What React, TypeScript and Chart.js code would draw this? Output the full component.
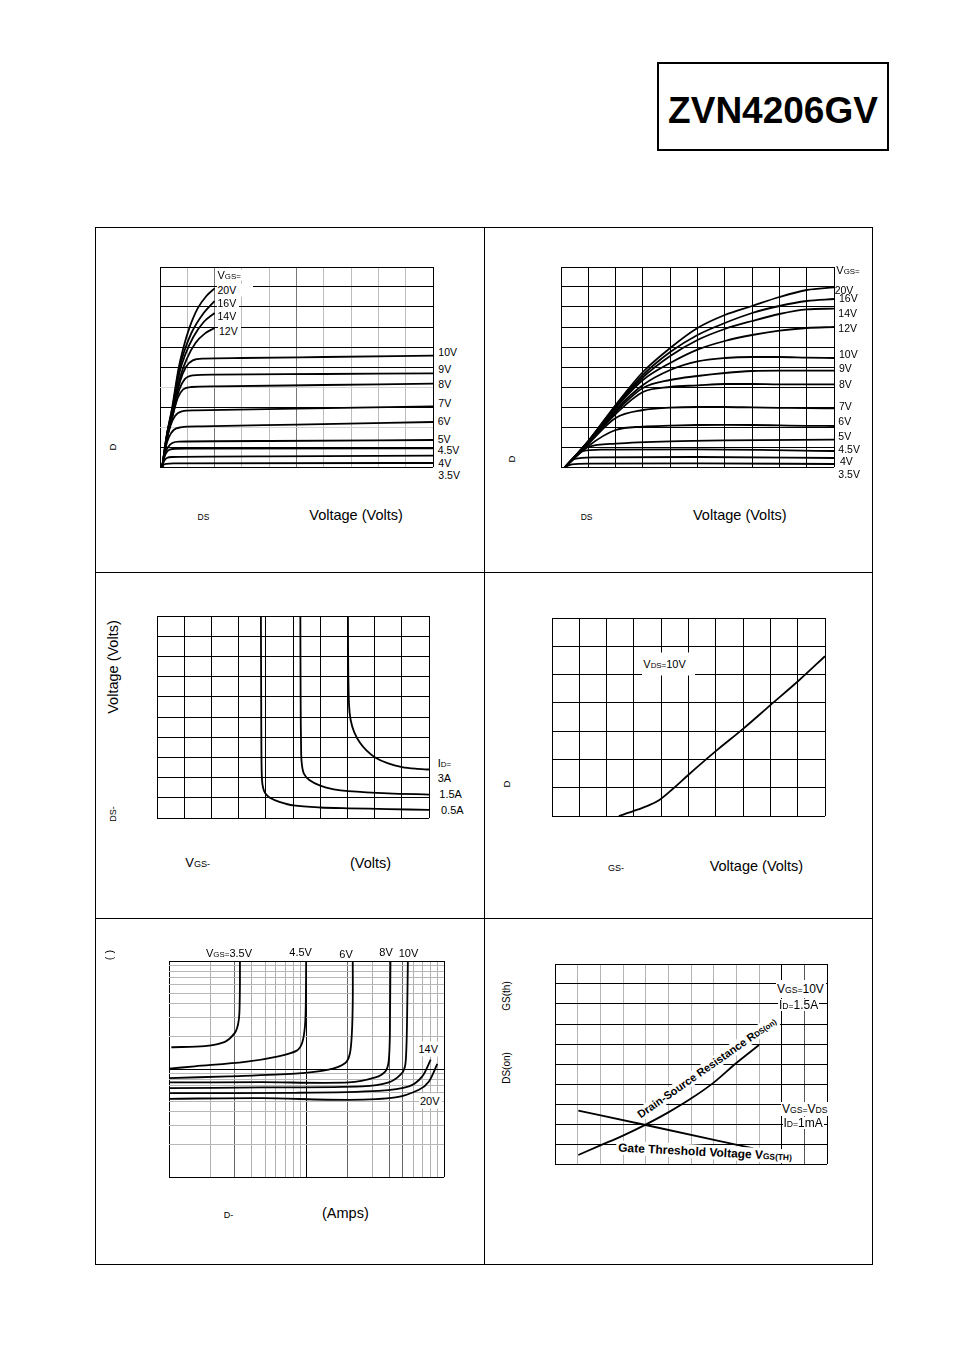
import React, { useEffect, useRef } from 'react';
import { Chart, registerables } from 'chart.js';
Chart.register(...registerables);

type Pt = [number, number];

// ---------- Panel 1: output characteristics (grid units 0-10) ----------
const p1XTicks = [0, 1, 2, 3, 4, 5, 6, 7, 8, 9, 10];
const p1YTicks = [0, 1, 2, 3, 4, 5, 6, 7, 8, 9, 10];
const p1Vgs20: Pt[] = [[0.08, 0], [0.25, 1.6], [0.44, 2.93], [0.68, 4.93], [0.85, 5.93], [1.07, 6.93], [1.38, 7.93], [1.7, 8.55], [2.0, 8.93]];
const p1Vgs16: Pt[] = [[0.08, 0], [0.25, 1.6], [0.45, 2.9], [0.69, 4.8], [0.88, 5.75], [1.15, 6.7], [1.6, 7.7], [2.0, 8.3]];
const p1Vgs14: Pt[] = [[0.08, 0], [0.25, 1.58], [0.46, 2.88], [0.71, 4.7], [0.92, 5.6], [1.22, 6.5], [1.6, 7.25], [2.0, 7.7]];
const p1Vgs12: Pt[] = [[0.08, 0], [0.26, 1.55], [0.47, 2.8], [0.74, 4.5], [0.98, 5.4], [1.3, 6.2], [1.65, 6.68], [2.0, 6.95]];
const p1Vgs10: Pt[] = [[0.08, 0], [0.26, 1.5], [0.47, 2.7], [0.74, 4.3], [0.95, 5.0], [1.2, 5.33], [1.6, 5.42], [3, 5.45], [6, 5.5], [10, 5.57]];
const p1Vgs9: Pt[] = [[0.08, 0], [0.26, 1.45], [0.47, 2.6], [0.7, 3.85], [0.9, 4.38], [1.2, 4.58], [2, 4.62], [6, 4.65], [10, 4.68]];
const p1Vgs8: Pt[] = [[0.08, 0], [0.25, 1.4], [0.45, 2.5], [0.65, 3.45], [0.85, 3.88], [1.15, 4.0], [2, 4.03], [6, 4.1], [10, 4.17]];
const p1Vgs7: Pt[] = [[0.08, 0], [0.22, 1.2], [0.38, 2.05], [0.55, 2.55], [0.8, 2.78], [1.3, 2.83], [5, 2.92], [10, 3.03]];
const p1Vgs6: Pt[] = [[0.08, 0], [0.2, 0.95], [0.33, 1.5], [0.5, 1.85], [0.75, 1.98], [1.5, 2.03], [5, 2.12], [10, 2.25]];
const p1Vgs5: Pt[] = [[0.08, 0], [0.18, 0.65], [0.3, 1.0], [0.45, 1.2], [0.7, 1.27], [4, 1.3], [10, 1.35]];
const p1Vgs45: Pt[] = [[0.08, 0], [0.16, 0.5], [0.28, 0.8], [0.45, 0.9], [1, 0.92], [10, 0.93]];
const p1Vgs4: Pt[] = [[0.07, 0], [0.15, 0.3], [0.25, 0.45], [0.45, 0.5], [4, 0.53], [10, 0.57]];
const p1Vgs35: Pt[] = [[0.06, 0], [0.12, 0.1], [0.22, 0.16], [0.5, 0.18], [10, 0.2]];

// ---------- Panel 2: saturation characteristics ----------
const p2XTicks = [0, 1, 2, 3, 4, 5, 6, 7, 8, 9, 10];
const p2YTicks = [0, 1, 2, 3, 4, 5, 6, 7, 8, 9, 10];
const p2Vgs20: Pt[] = [[0.15, 0], [1, 1.3], [2, 3.1], [3, 4.75], [4, 5.95], [5, 6.95], [6, 7.6], [7, 8.05], [8, 8.5], [9, 8.85], [10, 8.98]];
const p2Vgs16: Pt[] = [[0.15, 0], [1, 1.3], [2, 3.05], [3, 4.6], [4, 5.75], [5, 6.6], [6, 7.2], [7, 7.7], [8, 8.05], [9, 8.3], [10, 8.4]];
const p2Vgs14: Pt[] = [[0.15, 0], [1, 1.28], [2, 3.0], [3, 4.48], [4, 5.55], [5, 6.35], [6, 6.9], [7, 7.3], [8, 7.65], [9, 7.88], [10, 7.92]];
const p2Vgs12: Pt[] = [[0.15, 0], [1, 1.27], [2, 2.95], [3, 4.35], [4, 5.2], [5, 5.87], [6, 6.3], [7, 6.6], [8, 6.82], [9, 6.95], [10, 7.0]];
const p2Vgs10: Pt[] = [[0.15, 0], [1, 1.25], [2, 2.85], [3, 4.1], [4, 4.85], [5, 5.28], [6, 5.45], [7, 5.5], [8, 5.5], [9, 5.47], [10, 5.45]];
const p2Vgs9: Pt[] = [[0.15, 0], [1, 1.22], [2, 2.75], [3, 3.95], [4, 4.35], [5, 4.55], [6, 4.7], [7, 4.8], [8, 4.82], [9, 4.82], [10, 4.82]];
const p2Vgs8: Pt[] = [[0.15, 0], [1, 1.2], [2, 2.65], [3, 3.75], [4, 4.0], [5, 4.08], [6, 4.15], [7, 4.15], [8, 4.13], [9, 4.13], [10, 4.13]];
const p2Vgs7: Pt[] = [[0.15, 0], [1, 1.15], [2, 2.45], [3, 2.85], [4, 2.97], [5, 3.0], [6, 3.0], [7, 2.98], [8, 2.96], [9, 2.94], [10, 2.93]];
const p2Vgs6: Pt[] = [[0.15, 0], [1, 1.05], [2, 1.85], [3, 2.02], [4, 2.07], [5, 2.1], [6, 2.11], [7, 2.1], [8, 2.08], [9, 2.06], [10, 2.05]];
const p2Vgs5: Pt[] = [[0.15, 0], [1, 1.0], [2, 1.17], [4, 1.28], [6, 1.33], [10, 1.37]];
const p2Vgs45: Pt[] = [[0.15, 0], [0.8, 0.8], [1.5, 0.87], [5, 0.88], [10, 0.8]];
const p2Vgs4: Pt[] = [[0.15, 0], [0.5, 0.4], [1.2, 0.48], [5, 0.5], [10, 0.45]];
const p2Vgs35: Pt[] = [[0.15, 0], [0.4, 0.13], [1, 0.17], [5, 0.18], [10, 0.15]];

// ---------- Panel 3: VDS vs VGS ----------
const p3XTicks = [0, 1, 2, 3, 4, 5, 6, 7, 8, 9, 10];
const p3YTicks = [0, 1, 2, 3, 4, 5, 6, 7, 8, 9, 10];
const p3Id05: Pt[] = [[3.82, 10], [3.83, 6], [3.84, 3], [3.86, 1.9], [3.9, 1.5], [3.98, 1.22], [4.15, 1.0], [4.5, 0.8], [5.02, 0.62], [6, 0.52], [7.03, 0.48], [8.5, 0.44], [10, 0.4]];
const p3Id15: Pt[] = [[5.27, 10], [5.28, 6], [5.3, 3.2], [5.33, 2.6], [5.4, 2.2], [5.6, 1.88], [6.0, 1.6], [6.5, 1.42], [7.03, 1.33], [8.5, 1.22], [10, 1.16]];
const p3Id3: Pt[] = [[7.02, 10], [7.03, 7.5], [7.06, 5.6], [7.12, 4.85], [7.25, 4.25], [7.45, 3.75], [7.7, 3.35], [8.02, 3.0], [8.5, 2.7], [9.01, 2.52], [9.5, 2.44], [10, 2.4]];

// ---------- Panel 4: transfer characteristic ----------
const p4XTicks = [0, 1, 2, 3, 4, 5, 6, 7, 8, 9, 10];
const p4YTicks = [0, 1, 2, 3, 4, 5, 6, 7];
const p4Vds10: Pt[] = [[2.45, 0], [3.0, 0.18], [3.5, 0.36], [3.92, 0.56], [4.45, 0.98], [4.99, 1.45], [6.02, 2.31], [7.01, 3.09], [8.0, 3.92], [9.03, 4.78], [10, 5.65]];

// ---------- Panel 5: on-resistance vs drain current (log-log) ----------
const p5XTicks = [0.1, 0.2, 0.3, 0.4, 0.5, 0.6, 0.7, 0.8, 0.9, 1, 2, 3, 4, 5, 6, 7, 8, 9, 10];
const p5YTicks = [0.1, 0.2, 0.3, 0.4, 0.5, 0.6, 0.7, 0.8, 0.9, 1, 2, 3, 4, 5, 6, 7, 8, 9, 10];
const p5Vgs35: Pt[] = [[0.104, 1.59], [0.182, 1.63], [0.255, 1.785], [0.301, 2.16], [0.318, 2.6], [0.325, 3.3], [0.328, 6.1], [0.328, 9.8]];
const p5Vgs45: Pt[] = [[0.1, 1.007], [0.154, 1.059], [0.357, 1.162], [0.625, 1.31], [0.85, 1.48], [0.93, 1.75], [0.975, 2.5], [0.989, 4.27], [0.994, 9.8]];
const p5Vgs6: Pt[] = [[0.1, 0.824], [0.27, 0.855], [0.827, 0.905], [1.447, 0.986], [1.915, 1.137], [2.07, 1.4], [2.14, 2.2], [2.17, 4.27], [2.17, 9.8]];
const p5Vgs8: Pt[] = [[0.1, 0.751], [0.472, 0.755], [2.03, 0.751], [3.17, 0.836], [3.75, 0.951], [3.95, 1.15], [4.03, 1.8], [4.05, 2.99], [4.08, 9.8]];
const p5Vgs10: Pt[] = [[0.1, 0.665], [0.472, 0.675], [2.535, 0.69], [3.97, 0.751], [4.83, 0.886], [5.2, 1.05], [5.33, 1.6], [5.39, 2.99], [5.46, 9.8]];
const p5Vgs14: Pt[] = [[0.1, 0.598], [0.827, 0.602], [3.35, 0.628], [5.55, 0.69], [6.95, 0.855], [8.0, 1.22]];
const p5Vgs20: Pt[] = [[0.1, 0.53], [0.472, 0.537], [2.02, 0.518], [4.44, 0.545], [6.57, 0.642], [7.77, 0.767], [8.94, 1.113]];

// ---------- Panel 6: normalised RDS(on) and VGS(th) vs temperature ----------
const p6XTicks = [0, 1, 2, 3, 4, 5, 6, 7, 8, 9, 10, 11, 12];
const p6YTicks = [0, 1, 2, 3, 4, 5, 6, 7, 8, 9, 10];
const p6Rds: Pt[] = [[1.03, 0.45], [2, 0.93], [3, 1.42], [4, 1.97], [5, 2.58], [6, 3.27], [7, 4.07], [8, 5.05], [9, 5.95]];
const p6Vth: Pt[] = [[1.03, 2.67], [4.0, 1.95], [8.75, 0.78]];

const FONT = "'Liberation Sans', Arial, Helvetica, sans-serif";

type ScaleKind = 'linear' | 'logarithmic';
interface Spec {
  left: number; top: number; width: number; height: number;
  xType: ScaleKind; yType: ScaleKind;
  xTicks: number[]; yTicks: number[];
  xColor: (v: number) => string; yColor: (v: number) => string;
  series: Pt[][];
  mode: 'monotone' | 'bezier';
}

const black = () => '#000';

function Panel({ spec }: { spec: Spec }) {
  const ref = useRef<HTMLCanvasElement>(null);
  const pad = 3;
  useEffect(() => {
    const xs = spec.xTicks, ys = spec.yTicks;
    const chart = new Chart(ref.current as HTMLCanvasElement, {
      type: 'line',
      data: {
        datasets: spec.series.map((s) => ({
          data: s.map(([x, y]) => ({ x, y })),
          borderColor: '#000',
          borderWidth: 1.8,
          pointRadius: 0,
          fill: false,
          tension: spec.mode === 'monotone' ? 0.4 : 0.3,
          cubicInterpolationMode: spec.mode === 'monotone' ? 'monotone' : 'default',
        })),
      },
      options: {
        animation: false,
        responsive: false,
        maintainAspectRatio: false,
        events: [],
        layout: { padding: pad },
        plugins: { legend: { display: false }, tooltip: { enabled: false }, title: { display: false } },
        scales: {
          x: {
            type: spec.xType,
            min: xs[0], max: xs[xs.length - 1],
            ticks: { display: false },
            border: { display: false },
            grid: { drawTicks: false, lineWidth: 1, color: (c: any) => spec.xColor(c.tick ? c.tick.value : 0) },
            afterBuildTicks: (ax: any) => { ax.ticks = xs.map((v) => ({ value: v })); },
          },
          y: {
            type: spec.yType,
            min: ys[0], max: ys[ys.length - 1],
            ticks: { display: false },
            border: { display: false },
            grid: { drawTicks: false, lineWidth: 1, color: (c: any) => spec.yColor(c.tick ? c.tick.value : 0) },
            afterBuildTicks: (ax: any) => { ax.ticks = ys.map((v) => ({ value: v })); },
          },
        },
      } as any,
    });
    return () => chart.destroy();
  }, []);
  const w = spec.width + pad * 2, h = spec.height + pad * 2;
  return (
    <canvas
      ref={ref}
      width={w}
      height={h}
      style={{ position: 'absolute', left: spec.left - pad, top: spec.top - pad, width: w, height: h }}
    />
  );
}

function Sub({ children, r = 0.72 }: { children: React.ReactNode; r?: number }) {
  return <span style={{ fontSize: `${r}em` }}>{children}</span>;
}

function L({ x, y, s = 11, bg, pad, bold, children }: { x: number; y: number; s?: number; bg?: boolean; pad?: string; bold?: boolean; children: React.ReactNode }) {
  return (
    <div
      style={{
        position: 'absolute', left: x, top: y, fontSize: s, lineHeight: 1, whiteSpace: 'nowrap',
        transform: 'translateY(-50%)', background: bg ? '#fff' : 'transparent', padding: pad || 0,
        marginLeft: 0, fontWeight: bold ? 700 : 400, fontFamily: FONT, color: '#000',
      }}
    >
      {children}
    </div>
  );
}

function R({ x, y, s = 10, deg = -90, bg, bold, pad, children }: { x: number; y: number; s?: number; deg?: number; bg?: boolean; bold?: boolean; pad?: string; children: React.ReactNode }) {
  return (
    <div
      style={{
        position: 'absolute', left: x, top: y, fontSize: s, lineHeight: 1, whiteSpace: 'nowrap',
        transform: `translate(-50%, -50%) rotate(${deg}deg)`, background: bg ? '#fff' : 'transparent',
        padding: pad || 0, fontWeight: bold ? 700 : 400, fontFamily: FONT, color: '#000',
      }}
    >
      {children}
    </div>
  );
}

const spec1: Spec = {
  left: 160, top: 267, width: 273, height: 200, xType: 'linear', yType: 'linear',
  xTicks: p1XTicks, yTicks: p1YTicks,
  xColor: (v) => (v === 0 || v === 10 ? '#000' : v === 2 || v === 5 ? '#777' : '#bdbdbd'),
  yColor: (v) => (v === 2 || v === 4 ? '#d4d4d4' : '#000'),
  series: [p1Vgs20, p1Vgs16, p1Vgs14, p1Vgs12, p1Vgs10, p1Vgs9, p1Vgs8, p1Vgs7, p1Vgs6, p1Vgs5, p1Vgs45, p1Vgs4, p1Vgs35],
  mode: 'monotone',
};
const spec2: Spec = {
  left: 561, top: 267, width: 273, height: 200, xType: 'linear', yType: 'linear',
  xTicks: p2XTicks, yTicks: p2YTicks, xColor: black, yColor: black,
  series: [p2Vgs20, p2Vgs16, p2Vgs14, p2Vgs12, p2Vgs10, p2Vgs9, p2Vgs8, p2Vgs7, p2Vgs6, p2Vgs5, p2Vgs45, p2Vgs4, p2Vgs35],
  mode: 'monotone',
};
const spec3: Spec = {
  left: 157, top: 616, width: 272, height: 202, xType: 'linear', yType: 'linear',
  xTicks: p3XTicks, yTicks: p3YTicks, xColor: black, yColor: black,
  series: [p3Id05, p3Id15, p3Id3], mode: 'bezier',
};
const spec4: Spec = {
  left: 552, top: 618, width: 273, height: 198, xType: 'linear', yType: 'linear',
  xTicks: p4XTicks, yTicks: p4YTicks, xColor: black, yColor: black,
  series: [p4Vds10], mode: 'monotone',
};
const spec5: Spec = {
  left: 169, top: 961, width: 275, height: 216, xType: 'logarithmic', yType: 'logarithmic',
  xTicks: p5XTicks, yTicks: p5YTicks,
  xColor: (v) => (v === 0.1 || v === 1 || v === 10 ? '#000' : v === 0.3 || v === 2 || v === 4 || v === 5 ? '#666' : '#b0b0b0'),
  yColor: (v) => (v === 0.1 || v === 1 || v === 10 ? '#000' : '#b8b8b8'),
  series: [p5Vgs35, p5Vgs45, p5Vgs6, p5Vgs8, p5Vgs10, p5Vgs14, p5Vgs20], mode: 'bezier',
};
const spec6: Spec = {
  left: 555, top: 964, width: 272, height: 200, xType: 'linear', yType: 'linear',
  xTicks: p6XTicks, yTicks: p6YTicks,
  xColor: (v) => (v === 0 || v === 10 || v === 12 ? '#000' : v === 11 ? '#555' : '#b5b5b5'),
  yColor: black,
  series: [p6Rds, p6Vth], mode: 'monotone',
};

export default function App() {
  return (
    <div style={{ position: 'absolute', left: 0, top: 0, width: 954, height: 1352, background: '#fff', fontFamily: FONT, overflow: 'hidden' }}>
      {/* Title box */}
      <div style={{ position: 'absolute', left: 657, top: 62, width: 232, height: 89, border: '2px solid #000', boxSizing: 'border-box' }} />
      <div style={{ position: 'absolute', left: 773, top: 109.5, transform: 'translate(-50%, -50%)', fontSize: 37, fontWeight: 700, lineHeight: 1, whiteSpace: 'nowrap', fontFamily: FONT }}>ZVN4206GV</div>

      {/* Outer frame and dividers */}
      <div style={{ position: 'absolute', left: 95, top: 227, width: 778, height: 1038, border: '1.5px solid #000', boxSizing: 'border-box' }} />
      <div style={{ position: 'absolute', left: 483.5, top: 227, width: 1.5, height: 1038, background: '#000' }} />
      <div style={{ position: 'absolute', left: 95, top: 571.5, width: 778, height: 1.5, background: '#000' }} />
      <div style={{ position: 'absolute', left: 95, top: 917.5, width: 778, height: 1.5, background: '#000' }} />

      <Panel spec={spec1} />
      <Panel spec={spec2} />
      <Panel spec={spec3} />
      <Panel spec={spec4} />
      <Panel spec={spec5} />
      <Panel spec={spec6} />

      {/* Panel 1 labels */}
      <L x={216.5} y={275.3} s={11} bg pad="0 2px 0 1px">V<Sub>GS=</Sub></L>
      <L x={216.5} y={290} s={10.5} bg pad="1px 17px 1px 1px">20V</L>
      <L x={216.5} y={303.3} s={10.5} bg pad="0 3px 0 1px">16V</L>
      <L x={216.5} y={316.3} s={10.5} bg pad="0 3px 0 1px">14V</L>
      <L x={218} y={331.3} s={10.5} bg pad="1px 3px 1px 1px">12V</L>
      <L x={438.3} y={352.3} s={10.5}>10V</L>
      <L x={438.3} y={369.3} s={10.5}>9V</L>
      <L x={438.3} y={383.7} s={10.5}>8V</L>
      <L x={438.3} y={402.7} s={10.5}>7V</L>
      <L x={437.7} y={421.3} s={10.5}>6V</L>
      <L x={437.7} y={439.3} s={10.5}>5V</L>
      <L x={437.7} y={450} s={10.5}>4.5V</L>
      <L x={438.3} y={463} s={10.5}>4V</L>
      <L x={438.3} y={474.7} s={10.5}>3.5V</L>
      <R x={113.3} y={447} s={9.5}>D</R>
      <L x={197.5} y={516.7} s={8.5}>DS</L>
      <L x={309.3} y={515.3} s={14.5}>Voltage (Volts)</L>

      {/* Panel 2 labels */}
      <L x={836.3} y={270.3} s={11}>V<Sub>GS=</Sub></L>
      <L x={834.7} y={289.7} s={10.5}>20V</L>
      <L x={839} y={298} s={10.5}>16V</L>
      <L x={838.3} y={313.3} s={10.5}>14V</L>
      <L x={838.3} y={328} s={10.5}>12V</L>
      <L x={839} y={353.7} s={10.5}>10V</L>
      <L x={839} y={368.3} s={10.5}>9V</L>
      <L x={839} y={384.3} s={10.5}>8V</L>
      <L x={839} y={405.7} s={10.5}>7V</L>
      <L x={838.3} y={420.7} s={10.5}>6V</L>
      <L x={838.3} y={435.7} s={10.5}>5V</L>
      <L x={838.3} y={448.7} s={10.5}>4.5V</L>
      <L x={840} y={460.7} s={10.5}>4V</L>
      <L x={838.3} y={473.7} s={10.5}>3.5V</L>
      <R x={512.3} y={459} s={9.5}>D</R>
      <L x={580.7} y={516.7} s={8.5}>DS</L>
      <L x={693} y={515.3} s={14.5}>Voltage (Volts)</L>

      {/* Panel 3 labels */}
      <L x={437.7} y={762.7} s={11}>I<Sub>D=</Sub></L>
      <L x={437.7} y={778} s={11}>3A</L>
      <L x={439.3} y={794} s={11}>1.5A</L>
      <L x={441} y={810} s={11}>0.5A</L>
      <R x={112.7} y={667} s={14.5}>Voltage (Volts)</R>
      <R x={112.7} y={813.7} s={9}>DS-</R>
      <L x={185.3} y={863} s={13}>V<Sub r={0.7}>GS-</Sub></L>
      <L x={350} y={863} s={14.5}>(Volts)</L>

      {/* Panel 4 labels */}
      <L x={642.3} y={664.3} s={11} bg pad="6px 9px 6px 1px">V<Sub>DS=</Sub>10V</L>
      <R x={506.7} y={784.3} s={9.5}>D</R>
      <L x={608} y={868} s={9}>GS-</L>
      <L x={709.7} y={866.3} s={14.5}>Voltage (Volts)</L>

      {/* Panel 5 labels */}
      <L x={206} y={953} s={11}>V<Sub>GS=</Sub>3.5V</L>
      <L x={289.3} y={952.3} s={11}>4.5V</L>
      <L x={339.3} y={954} s={11}>6V</L>
      <L x={379.3} y={952} s={11}>8V</L>
      <L x={398.7} y={953} s={11}>10V</L>
      <L x={417.5} y={1048.7} s={11} bg pad="2px 2px 2px 1px">14V</L>
      <L x={419} y={1100.7} s={11} bg pad="2px 2px 2px 1px">20V</L>
      <R x={109.3} y={954.7} s={11}>( )</R>
      <L x={223.7} y={1214.7} s={9}>D-</L>
      <L x={322} y={1213} s={14.5}>(Amps)</L>

      {/* Panel 6 labels */}
      <L x={776} y={989} s={12} bg pad="3px 2px 3px 1px">V<Sub>GS=</Sub>10V</L>
      <L x={778} y={1005.3} s={12} bg pad="0 1px">I<Sub>D=</Sub>1.5A</L>
      <L x={781} y={1108.7} s={12} bg pad="1px 1px">V<Sub>GS=</Sub>V<Sub>DS</Sub></L>
      <L x={782.5} y={1122.7} s={12} bg pad="0 1px">I<Sub>D=</Sub>1mA</L>
      <R x={507.3} y={996.3} s={10}>GS(th)</R>
      <R x={507.3} y={1068} s={10}>DS(on)</R>
      <R x={707} y={1068} s={11} deg={-35} bold bg pad="1px 2px">Drain-Source Resistance R<Sub r={0.7}>DS(on)</Sub></R>
      <R x={705} y={1152} s={12} deg={3} bold bg pad="1px 2px">Gate Threshold Voltage V<Sub r={0.7}>GS(TH)</Sub></R>
    </div>
  );
}
